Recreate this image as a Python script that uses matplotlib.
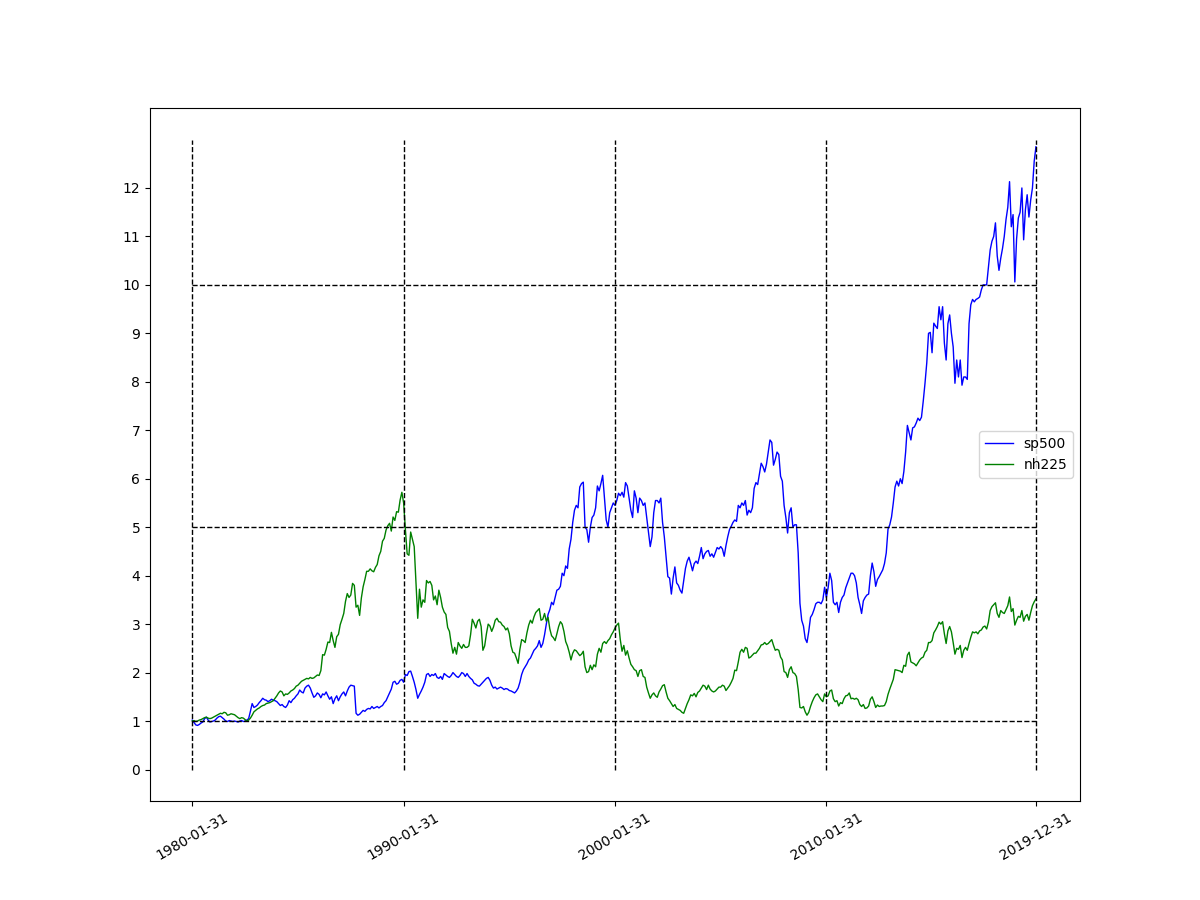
import matplotlib
matplotlib.use("Agg")
import matplotlib.pyplot as plt

# monthly values, 1980-01 .. 2019-12, one row per year
sp500 = [
    1.02, 0.97, 0.92, 0.91, 0.93, 0.96, 0.98, 1.05, 1.08, 1.02, 0.98, 0.99,
    1.00, 1.02, 1.06, 1.09, 1.10, 1.07, 1.04, 1.00, 0.99, 1.01, 1.00, 0.99,
    1.00, 0.99, 0.98, 1.00, 1.01, 0.99, 1.00, 1.02, 1.05, 1.20, 1.36, 1.28,
    1.30, 1.33, 1.38, 1.42, 1.47, 1.44, 1.43, 1.40, 1.42, 1.45, 1.43, 1.42,
    1.40, 1.36, 1.32, 1.34, 1.30, 1.28, 1.33, 1.42, 1.38, 1.44, 1.47, 1.52,
    1.56, 1.64, 1.60, 1.58, 1.68, 1.72, 1.74, 1.68, 1.58, 1.49, 1.52, 1.58,
    1.55, 1.48, 1.56, 1.54, 1.60, 1.52, 1.45, 1.50, 1.36, 1.46, 1.52, 1.42,
    1.50, 1.56, 1.60, 1.52, 1.62, 1.70, 1.74, 1.73, 1.72, 1.16, 1.12, 1.14,
    1.18, 1.22, 1.20, 1.24, 1.26, 1.25, 1.30, 1.26, 1.28, 1.30, 1.27, 1.30,
    1.32, 1.38, 1.42, 1.50, 1.58, 1.66, 1.80, 1.82, 1.76, 1.78, 1.84, 1.86,
    1.80, 1.96, 1.94, 2.02, 2.03, 1.92, 1.80, 1.65, 1.47, 1.55, 1.62, 1.70,
    1.80, 1.96, 1.98, 1.92, 1.96, 1.94, 1.98, 1.90, 1.88, 1.92, 1.86, 1.98,
    1.95, 1.92, 1.90, 1.94, 2.00, 1.96, 1.92, 1.90, 1.94, 2.00, 1.98, 1.92,
    1.98, 1.92, 1.88, 1.85, 1.78, 1.76, 1.73, 1.72, 1.76, 1.80, 1.84, 1.88,
    1.90, 1.84, 1.74, 1.68, 1.70, 1.66, 1.68, 1.70, 1.68, 1.65, 1.67, 1.66,
    1.63, 1.62, 1.60, 1.58, 1.62, 1.68, 1.80, 1.96, 2.06, 2.12, 2.18, 2.26,
    2.30, 2.38, 2.46, 2.50, 2.55, 2.66, 2.52, 2.60, 2.78, 3.00, 3.20, 3.30,
    3.45, 3.40, 3.55, 3.70, 3.72, 3.78, 4.05, 4.00, 4.20, 4.15, 4.55, 4.75,
    5.10, 5.35, 5.45, 5.40, 5.83, 5.90, 5.93, 5.00, 4.95, 4.69, 5.00, 5.20,
    5.25, 5.40, 5.85, 5.75, 5.90, 6.07, 5.60, 5.15, 5.00, 5.30, 5.40, 5.50,
    5.45, 5.55, 5.70, 5.65, 5.72, 5.62, 5.92, 5.85, 5.60, 5.35, 5.20, 5.75,
    5.60, 5.30, 5.60, 5.55, 5.45, 5.50, 5.20, 4.90, 4.60, 4.80, 5.30, 5.55,
    5.55, 5.50, 5.60, 5.10, 4.80, 4.40, 3.98, 3.95, 3.62, 3.95, 4.18, 3.85,
    3.80, 3.70, 3.64, 3.90, 4.15, 4.30, 4.38, 4.25, 4.10, 4.25, 4.30, 4.25,
    4.40, 4.58, 4.35, 4.45, 4.50, 4.52, 4.40, 4.45, 4.38, 4.48, 4.58, 4.55,
    4.60, 4.55, 4.40, 4.62, 4.80, 4.95, 5.02, 5.10, 5.15, 5.12, 5.45, 5.40,
    5.50, 5.45, 5.55, 5.25, 5.35, 5.30, 5.40, 5.80, 5.92, 5.88, 6.10, 6.32,
    6.25, 6.14, 6.30, 6.55, 6.80, 6.75, 6.28, 6.40, 6.55, 6.50, 6.05, 5.95,
    5.45, 5.20, 4.88, 5.30, 5.40, 5.00, 5.05, 5.05, 4.47, 3.43, 3.08, 2.96,
    2.70, 2.62, 2.85, 3.14, 3.20, 3.30, 3.42, 3.45, 3.45, 3.42, 3.50, 3.76,
    3.55, 3.75, 4.05, 3.90, 3.45, 3.40, 3.45, 3.24, 3.45, 3.55, 3.60, 3.75,
    3.85, 3.95, 4.05, 4.05, 4.00, 3.85, 3.55, 3.40, 3.22, 3.48, 3.55, 3.60,
    3.62, 4.00, 4.26, 4.08, 3.78, 3.92, 3.98, 4.05, 4.12, 4.25, 4.47, 4.96,
    5.05, 5.21, 5.50, 5.83, 5.95, 5.85, 6.00, 5.90, 6.15, 6.55, 7.10, 6.95,
    6.80, 7.05, 7.07, 7.15, 7.25, 7.20, 7.27, 7.60, 7.97, 8.39, 9.00, 9.02,
    8.60, 9.21, 9.15, 9.10, 9.55, 9.28, 9.55, 8.80, 8.45, 9.20, 9.38, 9.00,
    8.72, 7.97, 8.45, 8.10, 8.45, 7.93, 8.10, 8.10, 8.05, 9.20, 9.59, 9.70,
    9.65, 9.70, 9.72, 9.75, 9.90, 10.00, 10.00, 10.00, 10.35, 10.72, 10.90, 11.00,
    11.28, 10.60, 10.30, 10.55, 10.75, 11.00, 11.35, 11.60, 12.13, 11.20, 11.45, 10.06,
    10.95, 11.38, 11.50, 12.00, 10.93, 11.55, 11.86, 11.40, 11.75, 12.00, 12.55, 12.85,
]

nh225 = [
    1.00, 1.01, 0.99, 1.00, 1.02, 1.03, 1.05, 1.07, 1.08, 1.06, 1.05, 1.06,
    1.08, 1.10, 1.12, 1.14, 1.16, 1.15, 1.18, 1.17, 1.12, 1.13, 1.15, 1.14,
    1.13, 1.10, 1.07, 1.05, 1.07, 1.06, 1.03, 1.00, 1.02, 1.06, 1.12, 1.19,
    1.22, 1.25, 1.27, 1.30, 1.32, 1.33, 1.36, 1.37, 1.38, 1.40, 1.42, 1.47,
    1.52, 1.58, 1.62, 1.60, 1.52, 1.56, 1.55, 1.58, 1.62, 1.64, 1.67, 1.72,
    1.74, 1.78, 1.82, 1.84, 1.86, 1.88, 1.87, 1.90, 1.88, 1.89, 1.92, 1.95,
    1.94, 2.04, 2.37, 2.36, 2.48, 2.63, 2.62, 2.83, 2.66, 2.52, 2.74, 2.79,
    2.99, 3.10, 3.22, 3.47, 3.63, 3.55, 3.60, 3.84, 3.80, 3.35, 3.39, 3.18,
    3.54, 3.77, 3.92, 4.09, 4.09, 4.14, 4.10, 4.08, 4.17, 4.23, 4.41, 4.50,
    4.71, 4.77, 4.94, 5.03, 5.08, 4.92, 5.21, 5.14, 5.32, 5.31, 5.56, 5.72,
    5.50, 4.95, 4.45, 4.42, 4.90, 4.75, 4.60, 3.88, 3.12, 3.72, 3.35, 3.50,
    3.45, 3.90, 3.85, 3.88, 3.80, 3.50, 3.58, 3.40, 3.70, 3.55, 3.35, 3.25,
    3.20, 2.93, 2.85, 2.60, 2.40, 2.52, 2.38, 2.62, 2.55, 2.50, 2.58, 2.52,
    2.52, 2.55, 2.78, 3.10, 3.02, 2.92, 3.06, 3.10, 2.95, 2.46, 2.55, 2.80,
    3.00, 2.96, 2.85, 2.94, 3.08, 3.12, 3.05, 3.04, 2.98, 2.95, 2.88, 2.92,
    2.80, 2.55, 2.42, 2.40, 2.30, 2.19, 2.48, 2.68, 2.66, 2.62, 2.82, 2.98,
    3.08, 3.02, 3.15, 3.24, 3.28, 3.32, 3.08, 3.10, 3.22, 3.06, 3.14, 2.90,
    2.76, 2.72, 2.66, 2.80, 2.95, 3.05, 3.00, 2.85, 2.64, 2.55, 2.42, 2.26,
    2.40, 2.47, 2.45, 2.40, 2.35, 2.38, 2.44, 2.12, 2.00, 2.02, 2.15, 2.06,
    2.16, 2.12, 2.38, 2.50, 2.42, 2.60, 2.64, 2.60, 2.66, 2.70, 2.78, 2.84,
    2.92, 2.98, 3.02, 2.68, 2.44, 2.56, 2.36, 2.45, 2.30, 2.17, 2.12, 2.06,
    2.04, 1.92, 2.04, 2.06, 1.92, 1.90, 1.70, 1.58, 1.47, 1.54, 1.58, 1.52,
    1.49, 1.60, 1.66, 1.73, 1.75, 1.60, 1.47, 1.42, 1.36, 1.30, 1.34, 1.26,
    1.24, 1.22, 1.18, 1.16, 1.26, 1.36, 1.44, 1.54, 1.52, 1.57, 1.50, 1.59,
    1.62, 1.68, 1.74, 1.72, 1.65, 1.74, 1.66, 1.62, 1.60, 1.62, 1.66, 1.70,
    1.70, 1.74, 1.72, 1.63, 1.68, 1.73, 1.80, 1.88, 2.05, 2.04, 2.22, 2.42,
    2.48, 2.42, 2.52, 2.50, 2.30, 2.32, 2.36, 2.40, 2.40, 2.45, 2.50, 2.57,
    2.58, 2.62, 2.58, 2.60, 2.64, 2.68, 2.56, 2.46, 2.48, 2.46, 2.32, 2.26,
    2.02, 2.00, 1.90, 2.06, 2.12, 2.00, 1.98, 1.92, 1.65, 1.28, 1.27, 1.30,
    1.19, 1.12, 1.18, 1.30, 1.40, 1.48, 1.54, 1.56, 1.50, 1.44, 1.40, 1.56,
    1.50, 1.52, 1.62, 1.64, 1.46, 1.40, 1.42, 1.31, 1.38, 1.36, 1.46, 1.52,
    1.53, 1.58, 1.46, 1.47, 1.45, 1.47, 1.44, 1.34, 1.30, 1.34, 1.26, 1.27,
    1.31, 1.45, 1.50, 1.40, 1.28, 1.33, 1.30, 1.31, 1.31, 1.32, 1.40, 1.55,
    1.66, 1.76, 1.86, 2.06, 2.05, 2.04, 2.03, 2.00, 2.15, 2.13, 2.36, 2.42,
    2.22, 2.20, 2.18, 2.14, 2.20, 2.26, 2.30, 2.32, 2.42, 2.46, 2.62, 2.62,
    2.66, 2.82, 2.88, 2.95, 3.04, 3.00, 3.05, 2.80, 2.60, 2.86, 2.95, 2.84,
    2.62, 2.38, 2.50, 2.48, 2.56, 2.31, 2.46, 2.52, 2.46, 2.60, 2.73, 2.84,
    2.82, 2.84, 2.80, 2.86, 2.88, 2.94, 2.96, 2.90, 3.04, 3.28, 3.36, 3.40,
    3.44, 3.22, 3.14, 3.28, 3.24, 3.22, 3.30, 3.38, 3.56, 3.26, 3.32, 2.98,
    3.08, 3.16, 3.14, 3.28, 3.06, 3.16, 3.20, 3.08, 3.24, 3.38, 3.46, 3.52,
]

tick_pos = [0, 120, 240, 360, 479]
tick_labels = ["1980-01-31", "1990-01-31", "2000-01-31", "2010-01-31", "2019-12-31"]
levels = [1, 5, 10]

x = list(range(len(sp500)))

plt.figure(figsize=(12, 9), dpi=100)
plt.plot(x, sp500, color="blue", linewidth=1, label="sp500")
plt.plot(x, nh225, color="green", linewidth=1, label="nh225")
plt.vlines(tick_pos, 0, 13, colors="black", linestyles="dashed", linewidth=1)
plt.hlines(levels, 0, len(x), colors="black", linestyles="dashed", linewidth=1)
plt.xticks(tick_pos, tick_labels, rotation=30)
plt.yticks(range(13))
plt.legend(loc="center right")
plt.savefig("out.png")
